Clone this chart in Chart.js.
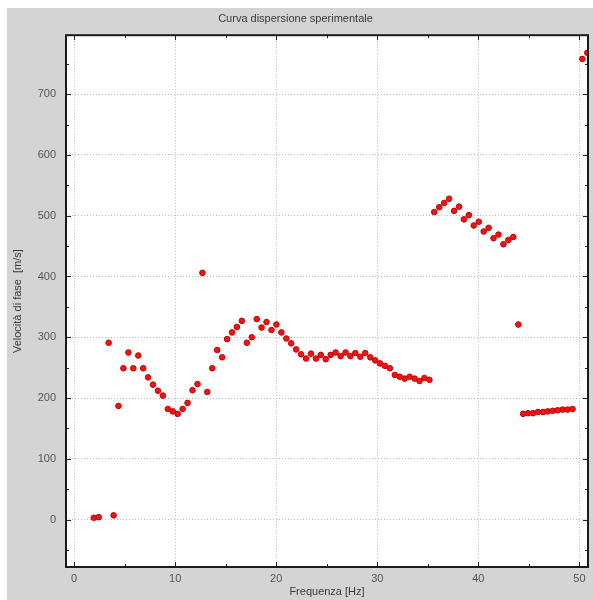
<!DOCTYPE html>
<html lang="it">

<head>
    <meta charset="UTF-8">
    <title>Curva dispersione sperimentale</title>
    <script src="https://cdn.jsdelivr.net/npm/chart.js"></script>
    <style>
        body {
            margin: 0;
            background: #fff;
        }
    </style>
</head>

<body>
    <canvas id="myChart" width="593" height="600"></canvas>

    <script>
        // frequenze [Hz] e velocita di fase [m/s]
        const freqHz = [1.95, 2.44, 3.42, 3.91, 4.39, 4.88, 5.37, 5.86, 6.35, 6.84, 7.32, 7.81, 8.30, 8.79, 9.28, 9.77,
            10.25, 10.74, 11.23, 11.72, 12.21, 12.70, 13.18, 13.67, 14.16, 14.65, 15.14, 15.63, 16.11, 16.60, 17.09, 17.58,
            18.07, 18.55, 19.04, 19.53, 20.02, 20.51, 21.00, 21.48, 21.97, 22.46, 22.95, 23.44, 23.93, 24.41, 24.90, 25.39,
            25.88, 26.37, 26.86, 27.34, 27.83, 28.32, 28.81, 29.30, 29.79, 30.27, 30.76, 31.25, 31.74, 32.23, 32.71, 33.20,
            33.69, 34.18, 34.67, 35.16, 35.64, 36.13, 36.62, 37.11, 37.60, 38.09, 38.57, 39.06, 39.55, 40.04, 40.53, 41.02,
            41.50, 41.99, 42.48, 42.97, 43.46, 43.95, 44.43, 44.92, 45.41, 45.90, 46.39, 46.88, 47.36, 47.85, 48.34, 48.83,
            49.32, 50.29, 50.78
        ]
        const phaseVel = [3, 4, 291, 7, 187, 249, 275, 249, 270, 249, 234, 222, 212, 204, 182, 178,
            174, 182, 192, 213, 223, 406, 210, 249, 279, 267, 297, 308, 317, 327, 291, 300,
            330, 316, 325, 312, 321, 308, 298, 290, 280, 272, 265, 273, 265, 271, 264, 271,
            275, 269, 275, 269, 274, 268, 274, 267, 262, 257, 253, 249, 238, 235, 232, 235,
            232, 228, 233, 230, 506, 514, 521, 528, 508, 515, 494, 501, 484, 490, 474, 480,
            463, 469, 453, 460, 465, 321, 174, 175, 175, 177, 177, 178, 179, 180, 181, 181,
            182, 758, 768
        ]
        const xTicks = [0, 10, 20, 30, 40, 50]
        const yTicks = [0, 100, 200, 300, 400, 500, 600, 700]

        const points = freqHz.map((f, i) => ({ x: f, y: phaseVel[i] }))

        // sfondo grigio della figura + cornice e tacche interne (stile octave)
        const frame = {
            id: 'frame',
            beforeDraw(chart) {
                const c = chart.ctx
                c.save()
                c.fillStyle = '#fff'
                c.fillRect(0, 0, chart.width, chart.height)
                c.fillStyle = '#d4d4d4'
                c.fillRect(7, 8, chart.width - 7, chart.height - 8)
                const a = chart.chartArea
                c.fillStyle = '#fff'
                c.fillRect(a.left, a.top, a.right - a.left, a.bottom - a.top)
                c.restore()
            },
            afterDraw(chart) {
                const c = chart.ctx
                const a = chart.chartArea
                const sx = chart.scales.x
                const sy = chart.scales.y
                c.save()
                c.strokeStyle = '#222'
                c.lineWidth = 1
                for (let v = 0; v <= sx.max; v += 5) {
                    const px = Math.round(sx.getPixelForValue(v)) + 0.5
                    const len = v % 10 === 0 ? 5 : 3
                    c.beginPath()
                    c.moveTo(px, a.bottom)
                    c.lineTo(px, a.bottom - len)
                    c.moveTo(px, a.top)
                    c.lineTo(px, a.top + len)
                    c.stroke()
                }
                for (let v = -50; v <= sy.max; v += 50) {
                    const py = Math.round(sy.getPixelForValue(v)) + 0.5
                    const len = v % 100 === 0 ? 5 : 3
                    c.beginPath()
                    c.moveTo(a.left, py)
                    c.lineTo(a.left + len, py)
                    c.moveTo(a.right, py)
                    c.lineTo(a.right - len, py)
                    c.stroke()
                }
                c.lineWidth = 2
                c.strokeStyle = '#1a1a1a'
                c.strokeRect(a.left, a.top, a.right - a.left, a.bottom - a.top)
                c.restore()
            }
        }

        const font = { family: 'Liberation Sans', size: 11, weight: 'normal' }

        const ctx = document.getElementById('myChart').getContext('2d')
        const myChart = new Chart(ctx, {
            type: 'scatter',
            data: {
                datasets: [{
                    data: points,
                    backgroundColor: '#f21414',
                    borderColor: '#c40000',
                    borderWidth: 1,
                    pointRadius: 2.8
                }]
            },
            options: {
                responsive: false,
                animation: false,
                devicePixelRatio: 1,
                layout: { padding: { left: 0, right: 2, top: 0, bottom: 0 } },
                plugins: {
                    legend: { display: false },
                    tooltip: { enabled: false },
                    title: {
                        display: true,
                        text: 'Curva dispersione sperimentale',
                        color: '#3a3a3a',
                        font: font,
                        padding: { top: 12, bottom: 10 }
                    }
                },
                scales: {
                    x: {
                        type: 'linear',
                        min: -0.8,
                        max: 50.85,
                        afterBuildTicks: s => { s.ticks = xTicks.map(v => ({ value: v })) },
                        afterFit: s => { s.height = 33 },
                        grid: { color: '#b8b8b8', drawTicks: false },
                        border: { display: false, dash: [1, 2] },
                        ticks: { color: '#555', font: font, padding: 5, maxRotation: 0 },
                        title: {
                            display: true,
                            text: 'Frequenza [Hz]',
                            color: '#3a3a3a',
                            font: font,
                            padding: { top: 0, bottom: 1 }
                        }
                    },
                    y: {
                        type: 'linear',
                        min: -78,
                        max: 797,
                        afterBuildTicks: s => { s.ticks = yTicks.map(v => ({ value: v })) },
                        afterFit: s => { s.width = 66 },
                        grid: { color: '#b8b8b8', drawTicks: false },
                        border: { display: false, dash: [1, 2] },
                        ticks: { color: '#555', font: font, padding: 10 },
                        title: {
                            display: true,
                            text: 'Velocità di fase  [m/s]',
                            color: '#3a3a3a',
                            font: font,
                            padding: { top: 11, bottom: 0 }
                        }
                    }
                }
            },
            plugins: [frame]
        });
    </script>

</body>

</html>
